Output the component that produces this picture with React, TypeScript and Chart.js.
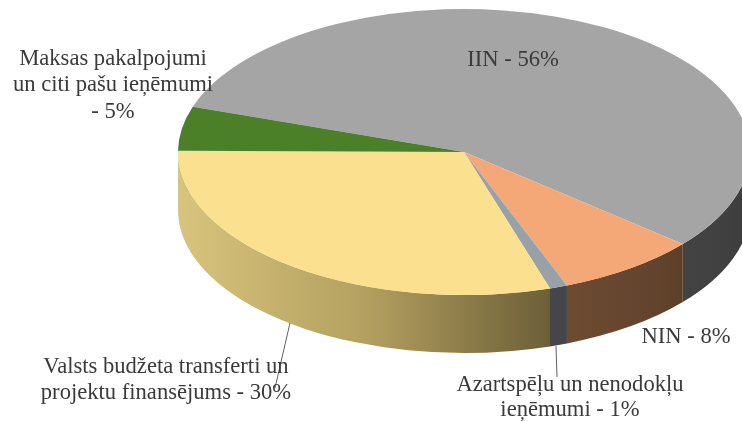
import React, { useEffect, useRef } from "react";
import { Chart, registerables } from "chart.js";

Chart.register(...registerables);

const categories = ["IIN", "NIN", "Azartspēļu un nenodokļu ieņēmumi", "Valsts budžeta transferti un projektu finansējums", "Maksas pakalpojumi un citi pašu ieņēmumi"];
const shares = [56, 8, 1, 30, 5];
const topColors = ["#a5a5a5", "#f4a878", "#98a0a8", "#fae08f", "#4b8029"];
const wallLeft = ["#434343", "#6e4b30", "#45464a", "#d8c47c", "#3c6420"];
const wallMid = ["#414141", "#664630", "#45464a", "#b4a060", "#3c6420"];
const wallRight = ["#3d3d3d", "#5e4029", "#45464a", "#6c5f38", "#3c6420"];
const labelLines = [
  ["IIN - 56%"],
  ["NIN - 8%"],
  ["Azartspēļu un nenodokļu", "ieņēmumi - 1%"],
  ["Valsts budžeta transferti un", "projektu finansējums - 30%"],
  ["Maksas pakalpojumi", "un citi pašu ieņēmumi", "- 5%"],
];
const labelAnchors = [
  [513, 60, 26],
  [686, 337, 26],
  [570, 385, 25.5],
  [166, 367, 26],
  [113, 59, 26.5],
];
const leaders = [
  [290, 323, 275, 388],
  [556, 346, 557, 377],
];

const CX = 464, CY = 152, RX = 286, RY = 143, DEPTH = 58;

const pie3d = {
  id: "pie3d",
  beforeDatasetsDraw(chart: any) {
    const ctx = chart.ctx;
    const arcs = chart.getDatasetMeta(0).data;
    arcs.forEach((arc: any, i: number) => {
      [[0, Math.PI], [2 * Math.PI, 3 * Math.PI]].forEach(([lo, hi]) => {
        const a = Math.max(arc.startAngle, lo);
        const b = Math.min(arc.endAngle, hi);
        if (b <= a) return;
        const xa = CX + RX * Math.cos(a);
        const xb = CX + RX * Math.cos(b);
        const g = ctx.createLinearGradient(Math.min(xa, xb), 0, Math.max(xa, xb, Math.min(xa, xb) + 1), 0);
        g.addColorStop(0, wallLeft[i]);
        g.addColorStop(0.5, wallMid[i]);
        g.addColorStop(1, wallRight[i]);
        ctx.save();
        ctx.beginPath();
        ctx.ellipse(CX, CY, RX, RY, 0, a, b, false);
        ctx.ellipse(CX, CY + DEPTH, RX, RY, 0, b, a, true);
        ctx.closePath();
        ctx.fillStyle = g;
        ctx.fill();
        ctx.restore();
      });
    });
  },
  beforeDatasetDraw(chart: any) {
    const ctx = chart.ctx;
    const arc = chart.getDatasetMeta(0).data[0];
    ctx.save();
    ctx.translate(CX, CY);
    ctx.scale(RX / arc.outerRadius, RY / arc.outerRadius);
    ctx.translate(-arc.x, -arc.y);
  },
  afterDatasetDraw(chart: any) {
    chart.ctx.restore();
  },
  afterDraw(chart: any) {
    const ctx = chart.ctx;
    ctx.save();
    ctx.strokeStyle = "#5f5f66";
    ctx.lineWidth = 1;
    leaders.forEach(([x1, y1, x2, y2]) => {
      ctx.beginPath();
      ctx.moveTo(x1, y1);
      ctx.lineTo(x2, y2);
      ctx.stroke();
    });
    ctx.font = '22.6px "Liberation Serif"';
    ctx.fillStyle = "#3a3a3a";
    ctx.textAlign = "center";
    ctx.textBaseline = "middle";
    labelLines.forEach((lines, i) => {
      const [x, y, step] = labelAnchors[i];
      lines.forEach((t, j) => ctx.fillText(t, x, y + j * step));
    });
    ctx.restore();
  },
};

export default function App() {
  const ref = useRef<HTMLCanvasElement>(null);
  useEffect(() => {
    const chart = new Chart(ref.current as HTMLCanvasElement, {
      type: "pie",
      data: {
        labels: categories,
        datasets: [{ data: shares, backgroundColor: topColors, borderWidth: 0, clip: false } as any],
      },
      options: {
        animation: false,
        responsive: false,
        rotation: 288.5,
        plugins: { legend: { display: false }, tooltip: { enabled: false } },
      },
      plugins: [pie3d],
    } as any);
    return () => chart.destroy();
  }, []);
  return (
    <canvas
      ref={ref}
      width={742}
      height={421}
      style={{ position: "absolute", left: 0, top: 0, width: 742, height: 421, background: "#fff", filter: "blur(0.5px)" }}
    />
  );
}
